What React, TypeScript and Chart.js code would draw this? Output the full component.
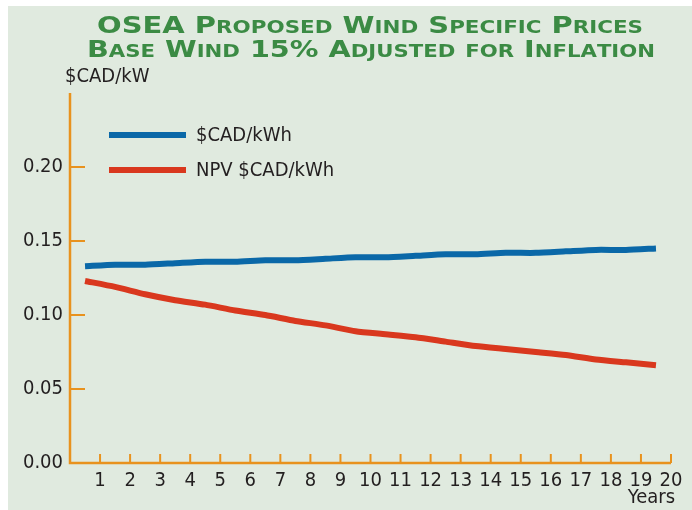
import React, { useEffect, useRef } from "react";
import { Chart, registerables } from "chart.js";

Chart.register(...registerables);

const titleLines = ["OSEA Proposed Wind Specific Prices", "Base Wind 15% Adjusted for Inflation"];
const yAxisTitle = "$CAD/kW";
const xAxisTitle = "Years";
const seriesLabels = ["$CAD/kWh", "NPV $CAD/kWh"];
const years = [1, 2, 3, 4, 5, 6, 7, 8, 9, 10, 11, 12, 13, 14, 15, 16, 17, 18, 19, 20];
const cadPerKwh = [0.133, 0.134, 0.134, 0.135, 0.136, 0.136, 0.137, 0.137, 0.138, 0.139, 0.139, 0.140, 0.141, 0.141, 0.142, 0.142, 0.143, 0.144, 0.144, 0.145];
const npvCadPerKwh = [0.123, 0.119, 0.114, 0.110, 0.107, 0.103, 0.100, 0.096, 0.093, 0.089, 0.087, 0.085, 0.082, 0.079, 0.077, 0.075, 0.073, 0.070, 0.068, 0.066];
const yTickValues = [0.05, 0.1, 0.15, 0.2];
const yMax = 0.25;
const xMax = 20;

const BG = "#e0eadf";
const ORANGE = "#e8921e";
const BLUE = "#0a68a8";
const RED = "#d9381e";
const GREEN = "#3b8b44";
const TEXT = "#231f20";
const LABEL_FONT = "'DejaVu Sans Condensed', 'DejaVu Sans', sans-serif";

function drawSmallCaps(ctx: CanvasRenderingContext2D, text: string, left: number, right: number, baseline: number) {
  const big = "bold 23px 'DejaVu Sans', sans-serif";
  const small = "bold 17px 'DejaVu Sans', sans-serif";
  const segs: { t: string; f: string }[] = [];
  for (const ch of text) {
    const isLower = ch !== ch.toUpperCase();
    segs.push({ t: ch.toUpperCase(), f: isLower ? small : big });
  }
  let total = 0;
  for (const s of segs) {
    ctx.font = s.f;
    total += ctx.measureText(s.t).width;
  }
  const sx = (right - left) / total;
  ctx.save();
  ctx.translate(left, baseline);
  ctx.scale(sx, 1);
  ctx.fillStyle = GREEN;
  ctx.textBaseline = "alphabetic";
  ctx.textAlign = "left";
  let x = 0;
  for (const s of segs) {
    ctx.font = s.f;
    ctx.fillText(s.t, x, 0);
    x += ctx.measureText(s.t).width;
  }
  ctx.restore();
}

const decorPlugin = {
  id: "decor",
  beforeDraw(chart: any) {
    const ctx = chart.ctx as CanvasRenderingContext2D;
    ctx.save();
    ctx.fillStyle = BG;
    ctx.fillRect(0, 0, chart.width, chart.height);
    ctx.restore();
  },
  beforeDatasetsDraw(chart: any) {
    const ctx = chart.ctx as CanvasRenderingContext2D;
    const xs = chart.scales.x;
    const ys = chart.scales.y;
    const x0 = xs.getPixelForValue(0);
    const x1 = xs.getPixelForValue(xMax);
    const y0 = ys.getPixelForValue(0);
    const y1 = ys.getPixelForValue(yMax);
    ctx.save();
    ctx.strokeStyle = ORANGE;
    ctx.lineWidth = 2.5;
    ctx.beginPath();
    ctx.moveTo(x0, y1);
    ctx.lineTo(x0, y0);
    ctx.lineTo(x1, y0);
    ctx.stroke();
    ctx.lineWidth = 2;
    for (const v of yTickValues) {
      const y = ys.getPixelForValue(v);
      ctx.beginPath();
      ctx.moveTo(x0, y);
      ctx.lineTo(x0 + 15, y);
      ctx.stroke();
    }
    for (const yr of years) {
      const x = xs.getPixelForValue(yr);
      ctx.beginPath();
      ctx.moveTo(x, y0);
      ctx.lineTo(x, y0 - 9);
      ctx.stroke();
    }
    ctx.restore();
  },
  afterDraw(chart: any) {
    const ctx = chart.ctx as CanvasRenderingContext2D;
    drawSmallCaps(ctx, titleLines[0], 89, 635, 27);
    drawSmallCaps(ctx, titleLines[1], 79, 647, 51);
    ctx.save();
    ctx.fillStyle = TEXT;
    ctx.font = `20px ${LABEL_FONT}`;
    ctx.textBaseline = "middle";
    ctx.textAlign = "left";
    ctx.fillText(yAxisTitle, 57, 71);
    ctx.textAlign = "right";
    ctx.fillText(xAxisTitle, 667, 492);
    // legend
    const colors = [BLUE, RED];
    const ly = [129, 164];
    for (let i = 0; i < 2; i++) {
      ctx.strokeStyle = colors[i];
      ctx.lineWidth = 6;
      ctx.beginPath();
      ctx.moveTo(101, ly[i]);
      ctx.lineTo(178, ly[i]);
      ctx.stroke();
      ctx.textAlign = "left";
      ctx.fillText(seriesLabels[i], 188, ly[i] + 1);
    }
    ctx.restore();
  },
};

export default function App() {
  const ref = useRef<HTMLCanvasElement | null>(null);
  useEffect(() => {
    if (!ref.current) return;
    const chart = new Chart(ref.current, {
      type: "line",
      data: {
        datasets: [
          {
            label: seriesLabels[0],
            data: years.map((yr, i) => ({ x: yr - 0.5, y: cadPerKwh[i] })),
            borderColor: BLUE,
            borderWidth: 6,
            pointRadius: 0,
            tension: 0.2,
            borderCapStyle: "butt",
          },
          {
            label: seriesLabels[1],
            data: years.map((yr, i) => ({ x: yr - 0.5, y: npvCadPerKwh[i] })),
            borderColor: RED,
            borderWidth: 6,
            pointRadius: 0,
            tension: 0.2,
            borderCapStyle: "butt",
          },
        ],
      },
      options: {
        responsive: false,
        animation: false,
        layout: { padding: { top: 87, right: 21, left: 0, bottom: 0 } },
        plugins: { legend: { display: false }, title: { display: false }, tooltip: { enabled: false } },
        scales: {
          x: {
            type: "linear",
            min: 0,
            max: xMax,
            grid: { display: false, drawTicks: false },
            border: { display: false },
            ticks: {
              stepSize: 1,
              autoSkip: false,
              maxRotation: 0,
              padding: 6,
              color: TEXT,
              font: { family: LABEL_FONT, size: 20 },
              callback: (v: any) => (v === 0 ? "" : String(v)),
            },
            afterFit: (s: any) => {
              s.height = 47;
            },
          },
          y: {
            min: 0,
            max: yMax,
            grid: { display: false, drawTicks: false },
            border: { display: false },
            ticks: {
              stepSize: 0.05,
              padding: 7,
              color: TEXT,
              font: { family: LABEL_FONT, size: 20 },
              callback: (v: any) => (v > 0.2 + 1e-9 ? "" : Number(v).toFixed(2)),
            },
            afterFit: (s: any) => {
              s.width = 62;
            },
          },
        },
      },
      plugins: [decorPlugin],
    } as any);
    return () => chart.destroy();
  }, []);
  return (
    <canvas
      ref={ref}
      width={684}
      height={504}
      style={{ position: "absolute", left: 8, top: 6, width: 684, height: 504 }}
    />
  );
}
